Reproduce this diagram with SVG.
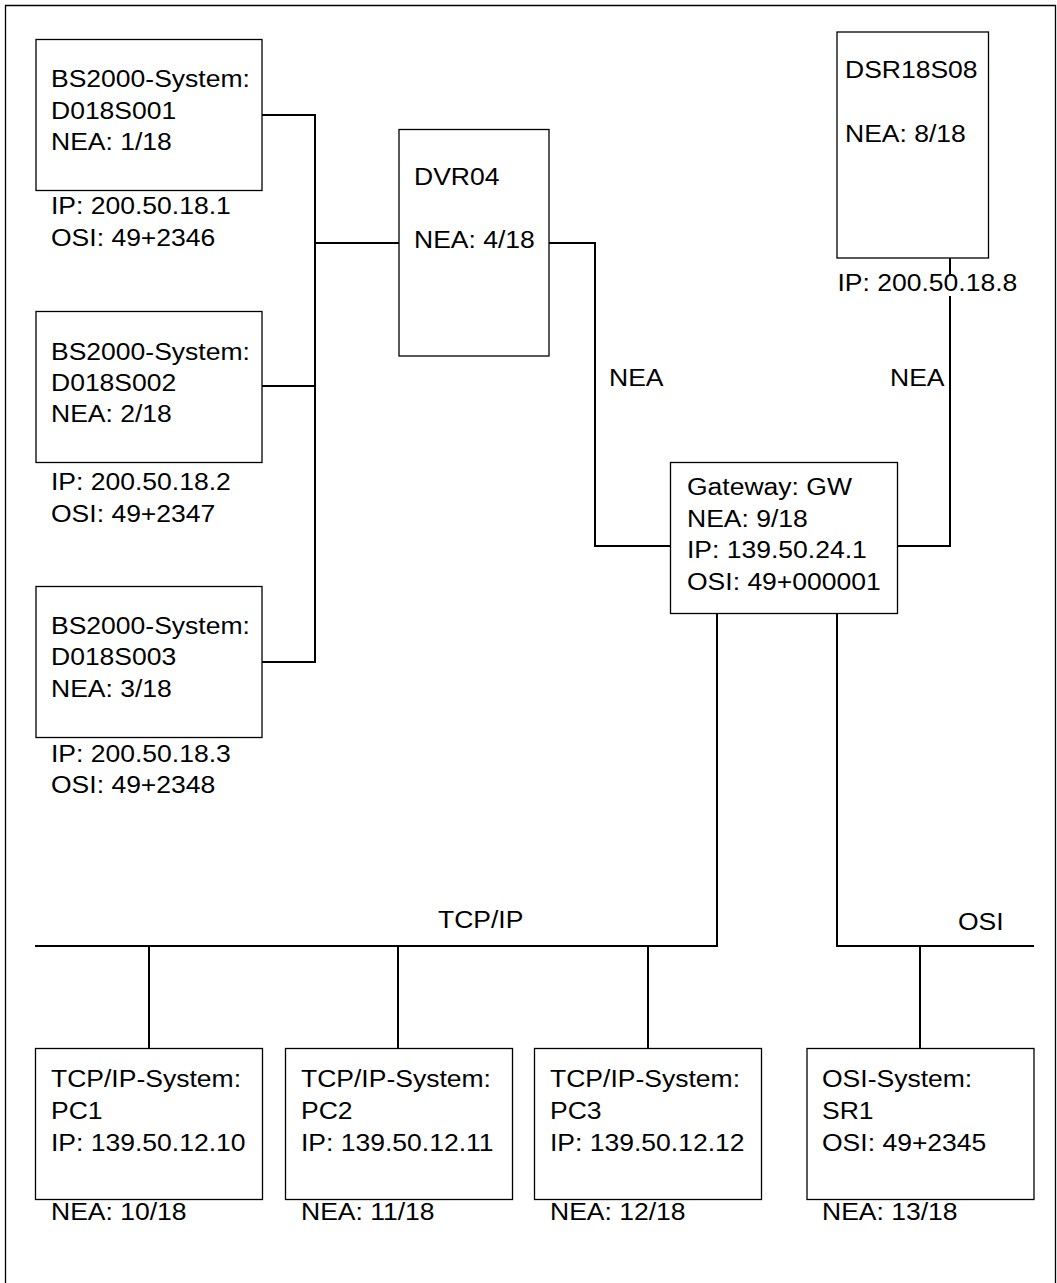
<svg xmlns="http://www.w3.org/2000/svg" width="1057" height="1283" viewBox="0 0 1057 1283">
<style>
  .box { fill: #fff; stroke: #000; stroke-width: 1.3; }
  .frame { fill: none; stroke: #000; stroke-width: 1.3; }
  .conn { fill: none; stroke: #000; stroke-width: 2; }
  text { font-family: "Liberation Sans", Arial, Helvetica, sans-serif; font-size: 23px; fill: #000; transform: scaleX(1.153); transform-box: fill-box; transform-origin: left center; }
</style>
<rect x="0" y="0" width="1057" height="1283" fill="#fff"/>
<path class="frame" d="M5.5,1283 V5.5 H1055.5 V1283"/>

<g id="connectors">
  <path class="conn" d="M262,115 H315 V662 H262"/>
  <path class="conn" d="M262,386 H315"/>
  <path class="conn" d="M315,243 H399"/>
  <path class="conn" d="M549,243 H595 V546 H670"/>
  <path class="conn" d="M897,546 H950 V296"/>
  <path class="conn" d="M950,258 V276"/>
  <path class="conn" d="M717,613 V946 H35"/>
  <path class="conn" d="M837,613 V946 H1034"/>
  <path class="conn" d="M149,946 V1048"/>
  <path class="conn" d="M398,946 V1048"/>
  <path class="conn" d="M648,946 V1048"/>
  <path class="conn" d="M920,946 V1048"/>
  <text x="609" y="386">NEA</text>
  <text x="890" y="386">NEA</text>
  <text x="438" y="928">TCP/IP</text>
  <text x="958" y="930">OSI</text>
</g>

<g id="bs1">
  <rect class="box" x="36" y="39.5" width="226" height="151"/>
  <text x="51" y="87">BS2000-System:</text>
  <text x="51" y="119">D018S001</text>
  <text x="51" y="150">NEA: 1/18</text>
  <text x="51" y="214">IP: 200.50.18.1</text>
  <text x="51" y="246">OSI: 49+2346</text>
</g>
<g id="bs2">
  <rect class="box" x="36" y="311.5" width="226" height="151"/>
  <text x="51" y="360">BS2000-System:</text>
  <text x="51" y="391">D018S002</text>
  <text x="51" y="422">NEA: 2/18</text>
  <text x="51" y="490">IP: 200.50.18.2</text>
  <text x="51" y="522">OSI: 49+2347</text>
</g>
<g id="bs3">
  <rect class="box" x="36" y="586.5" width="226" height="151"/>
  <text x="51" y="634">BS2000-System:</text>
  <text x="51" y="665">D018S003</text>
  <text x="51" y="697">NEA: 3/18</text>
  <text x="51" y="762">IP: 200.50.18.3</text>
  <text x="51" y="793">OSI: 49+2348</text>
</g>
<g id="dvr04">
  <rect class="box" x="399" y="129.5" width="150" height="226.5"/>
  <text x="414" y="185">DVR04</text>
  <text x="414" y="248">NEA: 4/18</text>
</g>
<g id="dsr18s08">
  <rect class="box" x="837" y="32" width="151.5" height="226"/>
  <text x="845" y="78">DSR18S08</text>
  <text x="845" y="142">NEA: 8/18</text>
  <text x="837.5" y="291">IP: 200.50.18.8</text>
</g>
<g id="gateway">
  <rect class="box" x="670.5" y="462.5" width="227" height="151"/>
  <text x="687" y="495">Gateway: GW</text>
  <text x="687" y="527">NEA: 9/18</text>
  <text x="687" y="558">IP: 139.50.24.1</text>
  <text x="687" y="590">OSI: 49+000001</text>
</g>
<g id="pc1">
  <rect class="box" x="35.5" y="1048.5" width="227" height="151"/>
  <text x="51" y="1087">TCP/IP-System:</text>
  <text x="51" y="1119">PC1</text>
  <text x="51" y="1151">IP: 139.50.12.10</text>
  <text x="51" y="1220">NEA: 10/18</text>
</g>
<g id="pc2">
  <rect class="box" x="285.5" y="1048.5" width="227" height="151"/>
  <text x="301" y="1087">TCP/IP-System:</text>
  <text x="301" y="1119">PC2</text>
  <text x="301" y="1151">IP: 139.50.12.11</text>
  <text x="301" y="1220">NEA: 11/18</text>
</g>
<g id="pc3">
  <rect class="box" x="534.5" y="1048.5" width="227" height="151"/>
  <text x="550" y="1087">TCP/IP-System:</text>
  <text x="550" y="1119">PC3</text>
  <text x="550" y="1151">IP: 139.50.12.12</text>
  <text x="550" y="1220">NEA: 12/18</text>
</g>
<g id="sr1">
  <rect class="box" x="807" y="1048.5" width="227" height="151"/>
  <text x="822" y="1087">OSI-System:</text>
  <text x="822" y="1119">SR1</text>
  <text x="822" y="1151">OSI: 49+2345</text>
  <text x="822" y="1220">NEA: 13/18</text>
</g>
</svg>
